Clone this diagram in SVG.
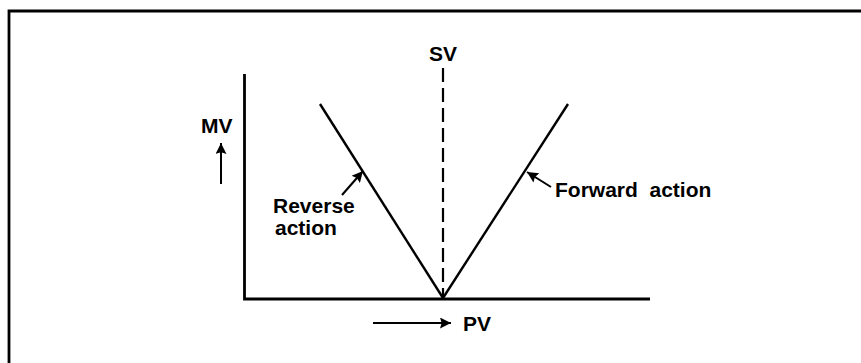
<svg xmlns="http://www.w3.org/2000/svg" width="861" height="363" viewBox="0 0 861 363">
<style>
  .ln { stroke: #000; stroke-width: 2.4; fill: none; stroke-linecap: butt; }
  .ax { stroke: #000; stroke-width: 2.8; fill: none; }
  .ptr { stroke: #000; stroke-width: 2; fill: none; }
  .t { font-family: "Liberation Sans", Arial, sans-serif; font-size: 21px; font-weight: bold; fill: #000; }
</style>
<defs>
  <marker id="ah" viewBox="0 0 10 10" refX="10" refY="5" markerWidth="8" markerHeight="5.5" orient="auto" markerUnits="strokeWidth">
    <path d="M0,0 L10,5 L0,10 L1.5,5 z" fill="#000"/>
  </marker>
</defs>
<rect x="0" y="0" width="861" height="363" fill="#fff"/>
<g id="frame">
  <polyline class="ax" points="9,363 9,11 861,11"/>
</g>
<g id="axes">
  <polyline class="ax" points="244.5,74 244.5,299 650,299"/>
</g>
<g id="connectors">
  <line class="ln" x1="320" y1="104" x2="443" y2="298"/>
  <line class="ln" x1="443" y1="298" x2="568" y2="104"/>
  <line x1="443" y1="68" x2="443" y2="298" stroke="#000" stroke-width="2.2" stroke-dasharray="14 6"/>
  <line class="ptr" x1="221" y1="184" x2="221" y2="143" marker-end="url(#ah)"/>
  <line class="ptr" x1="373" y1="323" x2="451" y2="323" marker-end="url(#ah)"/>
  <line class="ptr" x1="342" y1="195" x2="363" y2="171" marker-end="url(#ah)"/>
  <line class="ptr" x1="551" y1="187" x2="527" y2="172" marker-end="url(#ah)"/>
</g>
<g id="sv"><text class="t" x="443" y="61" text-anchor="middle">SV</text></g>
<g id="mv"><text class="t" x="201" y="133">MV</text></g>
<g id="pv"><text class="t" x="463" y="331">PV</text></g>
<g id="reverse">
  <text class="t" x="273" y="213">Reverse</text>
  <text class="t" x="275" y="235">action</text>
</g>
<g id="forward"><text class="t" x="555" y="197" xml:space="preserve">Forward  action</text></g>
</svg>
